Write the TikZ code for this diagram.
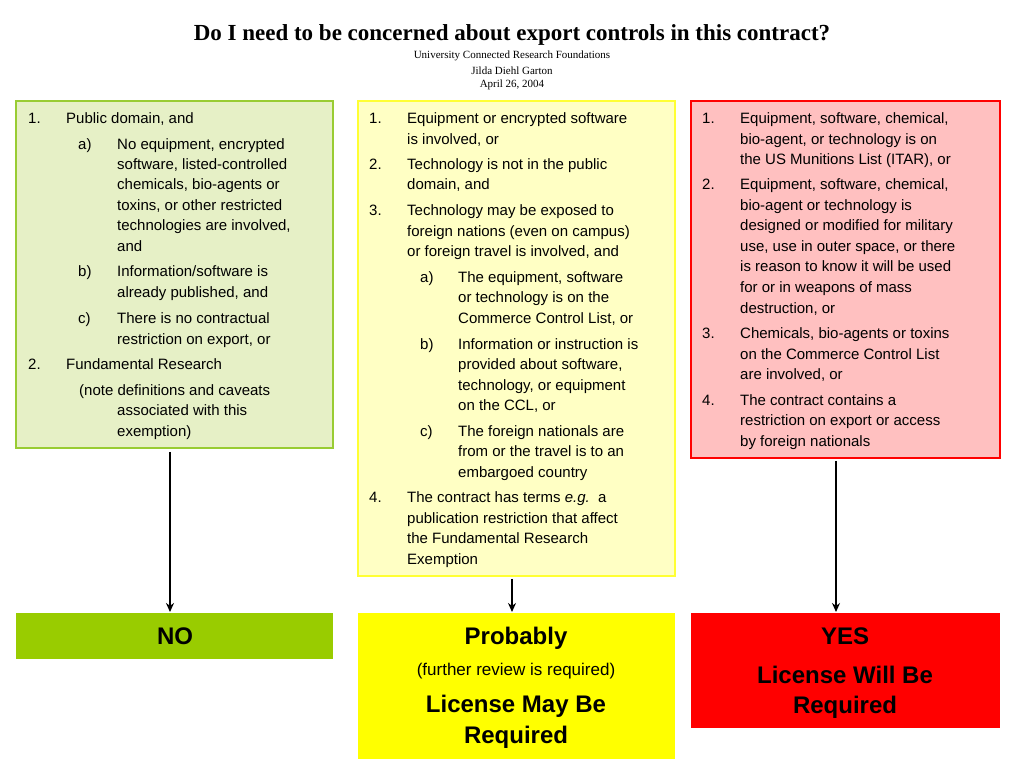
\documentclass[tikz,border=0pt]{standalone}
\usepackage{fontspec}
\setmainfont{Liberation Sans}
\newfontfamily\seriffont{Liberation Serif}
\usetikzlibrary{arrows.meta}
\definecolor{gfill}{HTML}{E6F0C6}
\definecolor{gline}{HTML}{99CC33}
\definecolor{yfill}{HTML}{FFFFC4}
\definecolor{yline}{HTML}{FFFF33}
\definecolor{rfill}{HTML}{FFC0C0}
\definecolor{rline}{HTML}{FF0000}
\definecolor{nofill}{HTML}{99CC00}
\definecolor{yesfill}{HTML}{FF0000}
\definecolor{probfill}{HTML}{FFFF00}
\newcommand{\Ln}[3]{\node[txt] at (#1,{768-#2-5.5}) {#3};}
\newcommand{\Bt}[4]{\node[#4] at (#1,{768-#2-8}) {#3};}
\tikzset{
  txt/.style={anchor=base west,inner sep=0pt,font=\fontsize{15}{18}\selectfont},
  box/.style={draw,line width=2pt},
  big/.style={anchor=base,inner sep=0pt,font=\fontsize{24}{28}\selectfont\bfseries},
  mid/.style={anchor=base,inner sep=0pt,font=\fontsize{17}{20}\selectfont},
  arr/.style={-{Stealth[length=9pt,width=8pt]},line width=2.2pt}
}
\begin{document}
\begin{tikzpicture}[x=1pt,y=1pt]
\useasboundingbox (0,0) rectangle (1024,768);
% title
\node[inner sep=0pt,font=\seriffont\fontsize{23}{26}\selectfont\bfseries] (title) at (512,733) {Do I need to be concerned about export controls in this contract?};
\node[inner sep=0pt,font=\seriffont\fontsize{11}{14}\selectfont] (s1) at (512,712) {University Connected Research Foundations};
\node[inner sep=0pt,font=\seriffont\fontsize{11}{14}\selectfont] (s2) at (512,697) {Jilda Diehl Garton};
\node[inner sep=0pt,font=\seriffont\fontsize{11}{14}\selectfont] (s3) at (512,683) {April 26, 2004};
% boxes
\draw[box,draw=gline,fill=gfill] (16,{768-448}) rectangle (333,{768-101});
\draw[box,draw=yline,fill=yfill] (358,{768-576}) rectangle (675,{768-101});
\draw[box,draw=rline,fill=rfill] (691,{768-458}) rectangle (1000,{768-101});
\fill[nofill] (16,{768-659}) rectangle (333,{768-613});
\fill[probfill] (358,{768-759}) rectangle (675,{768-613});
\fill[yesfill] (691,{768-728}) rectangle (1000,{768-613});
% anchor coordinates for arrows
\coordinate (ga) at (170,{768-452});
\coordinate (gb) at (170,{768-612});
\coordinate (ya) at (512,{768-579});
\coordinate (yb) at (512,{768-612});
\coordinate (ra) at (836,{768-461});
\coordinate (rb) at (836,{768-612});
\draw[arr] (ga) -- (gb);
\draw[arr] (ya) -- (yb);
\draw[arr] (ra) -- (rb);
% green text
\Ln{28}{118}{1.}\Ln{66}{118}{Public domain, and}
\Ln{78}{144}{a)}\Ln{117}{144}{No equipment, encrypted}
\Ln{117}{164}{software, listed-controlled}
\Ln{117}{184}{chemicals, bio-agents or}
\Ln{117}{205}{toxins, or other restricted}
\Ln{117}{225}{technologies are involved,}
\Ln{117}{246}{and}
\Ln{78}{271}{b)}\Ln{117}{271}{Information/software is}
\Ln{117}{292}{already published, and}
\Ln{78}{318}{c)}\Ln{117}{318}{There is no contractual}
\Ln{117}{339}{restriction on export, or}
\Ln{28}{364}{2.}\Ln{66}{364}{Fundamental Research}
\Ln{79}{390}{(note definitions and caveats}
\Ln{117}{410}{associated with this}
\Ln{117}{431}{exemption)}
% yellow text
\Ln{369}{118}{1.}\Ln{407}{118}{Equipment or encrypted software}
\Ln{407}{139}{is involved, or}
\Ln{369}{164}{2.}\Ln{407}{164}{Technology is not in the public}
\Ln{407}{184}{domain, and}
\Ln{369}{210}{3.}\Ln{407}{210}{Technology may be exposed to}
\Ln{407}{231}{foreign nations (even on campus)}
\Ln{407}{251}{or foreign travel is involved, and}
\Ln{420}{277}{a)}\Ln{458}{277}{The equipment, software}
\Ln{458}{297}{or technology is on the}
\Ln{458}{318}{Commerce Control List, or}
\Ln{420}{344}{b)}\Ln{458}{344}{Information or instruction is}
\Ln{458}{364}{provided about software,}
\Ln{458}{385}{technology, or equipment}
\Ln{458}{405}{on the CCL, or}
\Ln{420}{431}{c)}\Ln{458}{431}{The foreign nationals are}
\Ln{458}{451}{from or the travel is to an}
\Ln{458}{472}{embargoed country}
\Ln{369}{497}{4.}\Ln{407}{497}{The contract has terms \textit{e.g.}\ \ a}
\Ln{407}{518}{publication restriction that affect}
\Ln{407}{538}{the Fundamental Research}
\Ln{407}{559}{Exemption}
% red text
\Ln{702}{118}{1.}\Ln{740}{118}{Equipment, software, chemical,}
\Ln{740}{139}{bio-agent, or technology is on}
\Ln{740}{159}{the US Munitions List (ITAR), or}
\Ln{702}{184}{2.}\Ln{740}{184}{Equipment, software, chemical,}
\Ln{740}{205}{bio-agent or technology is}
\Ln{740}{225}{designed or modified for military}
\Ln{740}{246}{use, use in outer space, or there}
\Ln{740}{266}{is reason to know it will be used}
\Ln{740}{287}{for or in weapons of mass}
\Ln{740}{308}{destruction, or}
\Ln{702}{333}{3.}\Ln{740}{333}{Chemicals, bio-agents or toxins}
\Ln{740}{354}{on the Commerce Control List}
\Ln{740}{374}{are involved, or}
\Ln{702}{400}{4.}\Ln{740}{400}{The contract contains a}
\Ln{740}{420}{restriction on export or access}
\Ln{740}{441}{by foreign nationals}
% bottom texts
\Bt{175}{636}{NO}{big}
\Bt{516}{636}{Probably}{big}
\Bt{516}{667}{(further review is required)}{mid}
\Bt{516}{704}{License May Be}{big}
\Bt{516}{735}{Required}{big}
\Bt{845}{636}{YES}{big}
\Bt{845}{675}{License Will Be}{big}
\Bt{845}{705}{Required}{big}
\end{tikzpicture}
\end{document}
